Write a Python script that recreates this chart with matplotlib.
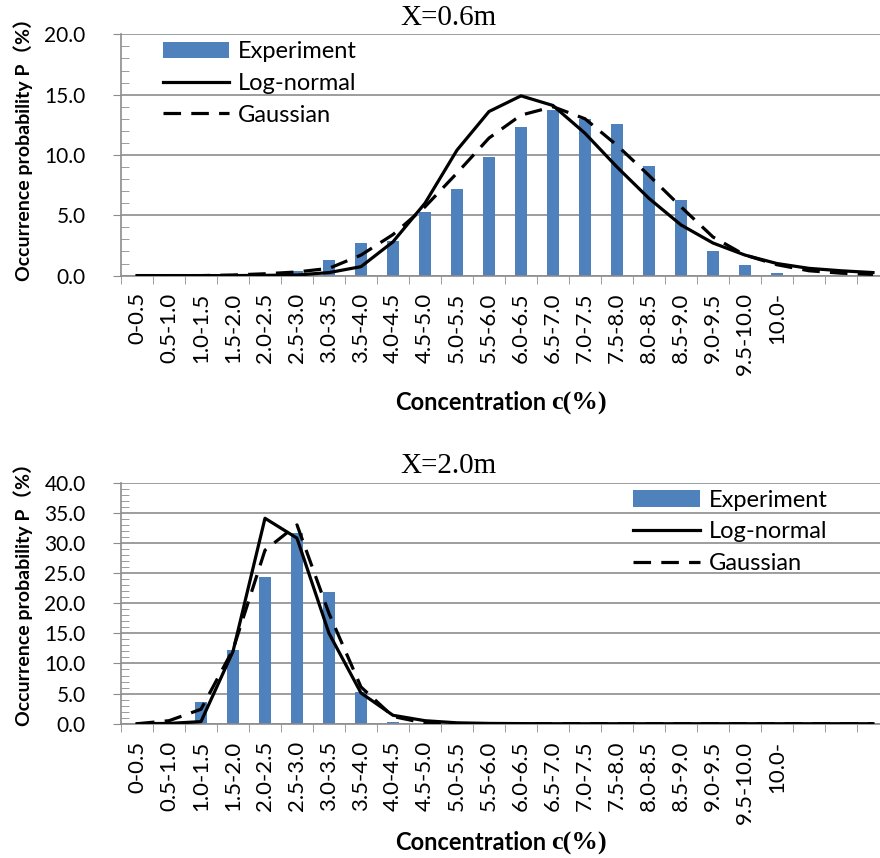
import matplotlib.pyplot as plt
import numpy as np
from matplotlib.ticker import MultipleLocator

labels = ['0-0.5', '0.5-1.0', '1.0-1.5', '1.5-2.0', '2.0-2.5', '2.5-3.0', '3.0-3.5',
          '3.5-4.0', '4.0-4.5', '4.5-5.0', '5.0-5.5', '5.5-6.0', '6.0-6.5', '6.5-7.0',
          '7.0-7.5', '7.5-8.0', '8.0-8.5', '8.5-9.0', '9.0-9.5', '9.5-10.0', '10.0-',
          '', '', '']

# X = 0.6 m
exp_06 = [0, 0, 0, 0, 0, 0.4, 1.3, 2.7, 2.9, 5.3, 7.2, 9.8, 12.3, 13.7,
          13.0, 12.6, 9.1, 6.3, 2.0, 0.9, 0.2, 0, 0, 0]
logn_06 = [0, 0, 0, 0, 0.02, 0.05, 0.25, 0.74, 2.8, 6.0, 10.4, 13.6, 14.9, 14.1,
           11.8, 9.0, 6.4, 4.2, 2.7, 1.7, 1.0, 0.6, 0.4, 0.25]
gauss_06 = [0, 0, 0, 0.05, 0.15, 0.3, 0.6, 1.7, 3.4, 5.7, 8.5, 11.4, 13.3, 14.0,
            13.0, 10.8, 8.3, 5.7, 3.2, 1.7, 0.9, 0.4, 0.2, 0.1]

# X = 2.0 m
exp_20 = [0, 0, 3.6, 12.2, 24.4, 31.6, 21.8, 5.3, 0.3, 0, 0, 0, 0, 0,
          0, 0, 0, 0, 0, 0, 0, 0, 0, 0]
logn_20 = [0, 0.05, 0.35, 12.0, 34.1, 30.8, 15.0, 5.1, 1.4, 0.5, 0.15, 0.05, 0.02, 0,
           0, 0, 0, 0, 0, 0, 0, 0, 0, 0]
gauss_20 = [0, 0.5, 2.4, 12.3, 28.8, 33.0, 18.3, 6.1, 1.2, 0.1, 0, 0, 0, 0,
            0, 0, 0, 0, 0, 0, 0, 0, 0, 0]

sans = ['Lato', 'Noto Sans CJK SC', 'DejaVu Sans']
grey = '#8c8c8c'
blue = '#4f81bd'

fig = plt.figure(figsize=(8.8, 8.58), dpi=100)
x = np.arange(len(labels))


def panel(rect, exp, logn, gauss, ymax, title, leg_x, title_y, ylab_y, xlab_y):
    ax = fig.add_axes(rect)
    b = ax.bar(x, exp, width=0.4, color=blue, zorder=2)
    l1, = ax.plot(x, logn, color='black', lw=2.3, zorder=3)
    l2, = ax.plot(x, gauss, color='black', lw=2.3, ls=(0, (5.5, 3.2)), zorder=3)
    ax.set_xlim(-0.5, len(labels) - 0.5)
    ax.set_ylim(0, ymax)
    ax.yaxis.set_major_locator(MultipleLocator(5))
    ax.yaxis.set_minor_locator(MultipleLocator(1))
    ax.set_yticklabels(['%.1f' % v for v in ax.get_yticks()], family=sans, fontsize=15)
    ax.tick_params(axis='y', which='major', direction='out', length=5.5, color=grey, pad=20)
    ax.tick_params(axis='y', which='minor', direction='in', length=5.5, color=grey)
    ax.set_xticks(x)
    ax.set_xticklabels(labels, rotation=90, family=sans, fontsize=16, va='top')
    ax.set_xticks(np.arange(len(labels) + 1) - 0.5, minor=True)
    ax.tick_params(axis='x', which='major', length=0, pad=12)
    ax.tick_params(axis='x', which='minor', direction='out', length=5.5, color=grey)
    ax.grid(axis='y', which='major', color=grey, lw=1.2, zorder=0)
    ax.set_axisbelow(True)
    for s in ['top', 'right']:
        ax.spines[s].set_visible(False)
    for s in ['left', 'bottom']:
        ax.spines[s].set_color(grey)
        ax.spines[s].set_linewidth(1.2)
    ax.legend([b, l1, l2], ['Experiment', 'Log-normal', 'Gaussian'],
              loc='upper left', bbox_to_anchor=(leg_x, 1.01), frameon=False,
              prop={'family': sans, 'size': 17}, handlelength=2.8,
              handletextpad=0.4, labelspacing=0.45, borderaxespad=0)
    fig.text(0.51, title_y, title, family='Liberation Serif', fontsize=21,
             ha='center', va='center')
    fig.text(0.026, ylab_y, 'Occurrence probability P（%）', family=sans,
             fontsize=14, fontweight='bold', rotation=90, ha='center', va='center')
    fig.text(546 / 880, xlab_y, 'Concentration', family=sans, fontsize=17,
             fontweight='bold', ha='right', va='center')
    fig.text(551 / 880, xlab_y, 'c(%)', family='Liberation Serif', fontsize=19,
             fontweight='bold', ha='left', va='center')
    return ax


panel([0.1375, 0.6788, 0.8727, 0.2812], exp_06, logn_06, gauss_06, 20, 'X=0.6m',
      0.042, 1 - 18 / 858, 1 - 145 / 858, 1 - 403 / 858)
panel([0.1375, 0.1565, 0.8727, 0.2809], exp_20, logn_20, gauss_20, 40, 'X=2.0m',
      0.655, 1 - 466 / 858, 1 - 590 / 858, 1 - 843 / 858)

fig.savefig('out.png', dpi=100)
